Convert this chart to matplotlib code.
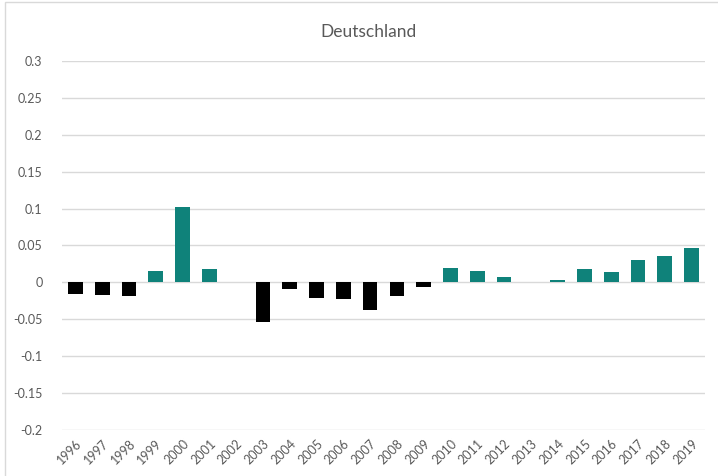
import numpy as np
import matplotlib.pyplot as plt
from matplotlib.patches import Rectangle

years = [str(y) for y in range(1996, 2020)]
values = [-0.016, -0.017, -0.019, 0.016, 0.102, 0.018, 0.0, -0.053,
          -0.0095, -0.021, -0.0225, -0.037, -0.018, -0.0065, 0.0195, 0.015,
          0.0073, 0.0, 0.0036, 0.018, 0.014, 0.031, 0.0355, 0.046]
title = 'Deutschland'

plt.rcParams['font.family'] = ['Lato', 'DejaVu Sans']
text_color = '#595959'

fig = plt.figure(figsize=(7.18, 4.76), dpi=100)
ax = fig.add_axes([62 / 718, 1 - 430 / 476, (705 - 62) / 718, (430 - 61) / 476])

# chart frame (Excel chart area border)
fig.patches.append(Rectangle((5 / 718, -0.1), 1.2, 1 - 2 / 476 + 0.1,
                             transform=fig.transFigure, fill=False,
                             edgecolor='#d9d9d9', linewidth=1))

x = np.arange(len(years))
colors = ['#0f827a' if v > 0 else 'black' for v in values]
ax.bar(x, values, width=0.55, color=colors, zorder=3)

ax.set_xlim(-0.5, len(years) - 0.5)
ax.set_ylim(-0.2, 0.3)
yticks = np.round(np.arange(-0.2, 0.301, 0.05), 2) + 0.0
ax.set_yticks(yticks)
ax.set_yticklabels([f'{t:g}' if abs(t) > 1e-9 else '0' for t in yticks],
                   fontsize=9, color=text_color)
ax.set_xticks(x)
ax.set_xticklabels(years, rotation=45, ha='right', rotation_mode='anchor',
                   fontsize=9, color=text_color)
ax.tick_params(axis='both', length=0)
ax.tick_params(axis='y', pad=14)
ax.tick_params(axis='x', pad=5)
ax.grid(axis='y', color='#d9d9d9', linewidth=1, zorder=0)
for s in ax.spines.values():
    s.set_visible(False)

fig.text(368 / 718, 1 - 32 / 476, title, ha='center', va='center',
         fontsize=12.5, color=text_color)

fig.savefig('out.png', dpi=100)
